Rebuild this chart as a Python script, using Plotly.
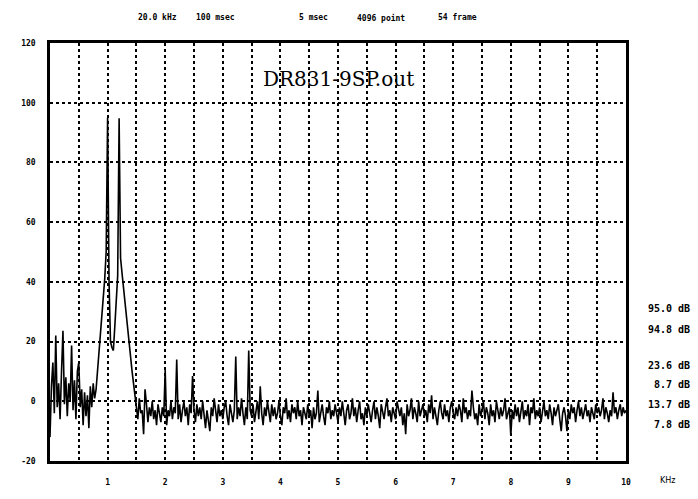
import numpy as np
import plotly.graph_objects as go

# Spectrum levels (dB) on a 0.025 kHz bin grid, 0 .. 10 kHz
STEP_KHZ = 0.025

low_band = [  # 0.000 - 0.800 kHz
    -12, 5, 13, -4, 22, -2, 6, -6, 10, 23.6, -1, 8, -5, 6, 0, 18.7, -3,
    7, -6, 10, 13, -2, 4, -8, 3, -5, 2, -9, 5, -2, 6, 1, 4,
]
tone_band = [  # 0.825 - 1.475 kHz, the two tones
    10, 16, 22, 28, 34, 41, 50, 95.0, 40, 20, 18, 17, 25, 33, 42, 94.8,
    48, 43, 38, 34, 29, 24, 20, 15, 10, 6, 1,
]
noise_band = [  # 1.500 - 10.000 kHz
    -2, -6, 1, -4, -3, -11, 4, -1, -7, -2, -5, 0, -6, -3, -8, -1, -4, -7, -2, -5,
    10.5, -8, -3, -5, 0, -6, -2, -4, 14, -6, -1, -7, -3, 0, -5, -2, -8, -1, -4, 8.5,
    -3, -7, -1, -5, -2, -6, 0, -4, -9, -3, -6, -10, -2, -5, 1, -4, -7, -1, -5, -3,
    -6, -2, 0, -5, -8, -1, -4, -7, -3, 15, -6, -2, -5, 1, -4, -8, -2, -6, 17, -3,
    -5, -1, -7, -3, 0, -6, 5, -4, -8, -2, -5, 0, -3, -7, -1, -5, -2, -6, -4, 0,
    -5, -8, -2, -4, 1, -6, -3, -7, -1, -4, -2, -6, 0, -5, -3, -8, -2, -4, -6, -1,
    -5, -3, -9, -2, -6, -4, 3.6, -7, -3, -1, -5, -8, -2, -4, 0, -6, -3, -5, -1, -4,
    -7, -2, -5, 0, -4, -8, -3, -1, -6, -4, 1, -5, -2, -7, -3, 0, -6, -4, -8, -2,
    -5, -1, -4, -7, -3, 0, -6, -2, -5, -9, -1, -4, -6, -2, 1, -5, -3, -7, -2, -4,
    -6, 0, -3, -5, -2, -8, -4, -11, -1, -5, -3, 1, -6, -2, -4, -7, 0, -5, -3, -1,
    -5, -3, -7, -1, -4, 2, -6, -2, -5, -8, -3, 0, -4, -6, -1, -5, -3, -7, -2, 0,
    -4, -6, -2, -5, -1, -3, -7, 1, -4, -2, -6, -3, -5, 3.6, -2, -6, -4, -8, -1, -5,
    -3, 0, -6, -2, -4, -8, -1, -5, -3, -7, 0, -4, -6, -2, -5, -3, 1, -6, -4, -2,
    -11.5, -3, -6, -1, -5, -2, -7, -4, 0, -6, -3, -5, -1, -8, -2, -4, 1, -6, -3, -5,
    -2, -7, -4, 0, -5, -3, -6, -1, -4, -8, -2, -5, -3, -1, -6, -10, -4, -2, -5, -10,
    -3, -6, -1, -4, -2, -7, -3, 0, -5, -2, -6, -4, -1, -5, -3, -7, -2, -4, -6, -1,
    -4, -2, -5, -3, 1, -6, -2, -4, -7, -3, -5, 3, -4, -2, -6, -3, -1, -5, -2, -4,
    -3,
]

level_db = low_band + tone_band + noise_band
freq_khz = np.round(np.arange(len(level_db)) * STEP_KHZ, 3)

# Axis ticks
x_grid = [0.5 * k for k in range(1, 21)]
x_tick_text = [str(int(v)) if float(v).is_integer() else "" for v in x_grid]
y_ticks = [-20, 0, 20, 40, 60, 80, 100, 120]

# Header and readouts
header_items = ["20.0 kHz", "100 msec", "5 msec", "4096 point", "54 frame"]
header_x_px = [157, 215, 313, 381, 457]
readouts = ["95.0 dB", "94.8 dB", "23.6 dB", "8.7 dB", "13.7 dB", "7.8 dB"]
readout_y_px = [314, 336, 372, 392, 412, 433]
file_label = "DR831-9SP.out"

W, H = 698, 499
L, R, T, B = 50, 72, 43, 29
PW, PH = W - L - R, H - T - B

def px_x(px):
    return (px - L) / PW

def px_y(py):
    return (H - B - py) / PH

mono_bold = dict(family="DejaVu Sans Mono", size=8, color="black", weight="bold")
readout_font = dict(family="DejaVu Sans Mono", size=10, color="black", weight="bold")

fig = go.Figure()
fig.add_trace(go.Scatter(
    x=freq_khz, y=level_db, mode="lines",
    line=dict(color="black", width=1.6),
    hoverinfo="skip", showlegend=False,
))

annotations = []
for txt, xp in zip(header_items, header_x_px):
    annotations.append(dict(
        text=txt, x=px_x(xp), y=px_y(17), xref="paper", yref="paper",
        xanchor="center", yanchor="middle", showarrow=False, font=mono_bold,
    ))
for txt, yp in zip(readouts, readout_y_px):
    annotations.append(dict(
        text=txt, x=px_x(692), y=px_y(yp), xref="paper", yref="paper",
        xanchor="right", yanchor="middle", showarrow=False, font=readout_font,
    ))
annotations.append(dict(
    text="KHz", x=px_x(658), y=px_y(490), xref="paper", yref="paper",
    xanchor="left", yanchor="middle", showarrow=False,
    font=dict(family="DejaVu Sans", size=8, color="black"),
))
annotations.append(dict(
    text=file_label, x=px_x(338), y=px_y(80), xref="paper", yref="paper",
    xanchor="center", yanchor="middle", showarrow=False,
    font=dict(family="DejaVu Serif", size=20, color="black"),
))

fig.update_layout(
    width=W, height=H,
    margin=dict(l=L, r=R, t=T, b=B, pad=0),
    paper_bgcolor="white", plot_bgcolor="white",
    annotations=annotations,
    xaxis=dict(
        range=[0, 10], tickmode="array", tickvals=x_grid, ticktext=x_tick_text,
        showgrid=True, gridcolor="black", gridwidth=1.5, griddash="dot",
        zeroline=False, showline=True, linecolor="black", linewidth=2.5,
        mirror=True, ticks="", ticklabelstandoff=12, tickfont=mono_bold,
        fixedrange=True,
    ),
    yaxis=dict(
        range=[-20, 120], tickmode="array", tickvals=y_ticks,
        ticktext=[str(v) for v in y_ticks],
        showgrid=True, gridcolor="black", gridwidth=1.5, griddash="dot",
        zeroline=False, showline=True, linecolor="black", linewidth=2.5,
        mirror=True, ticks="", ticklabelstandoff=10, tickfont=mono_bold,
        fixedrange=True,
    ),
)

fig.write_html("out.html")
